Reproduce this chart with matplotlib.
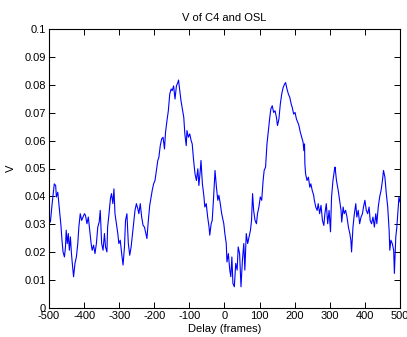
import matplotlib
matplotlib.use("Agg")
import matplotlib.pyplot as plt

title = "V of C4 and OSL"
xlabel = "Delay (frames)"
ylabel = "V"

x_ticks = [-500, -400, -300, -200, -100, 0, 100, 200, 300, 400, 500]
x_tick_labels = ["-500", "-400", "-300", "-200", "-100", "0", "100", "200", "300", "400", "500"]
y_ticks = [0, 0.01, 0.02, 0.03, 0.04, 0.05, 0.06, 0.07, 0.08, 0.09, 0.1]
y_tick_labels = ["0", "0.01", "0.02", "0.03", "0.04", "0.05", "0.06", "0.07", "0.08", "0.09", "0.1"]

delay_a = [-500, -496, -492, -489, -485, -481, -479, -475, -472, -470, -466, -463, -460, -456,
           -453, -451, -448, -445, -442, -439, -436, -434, -430, -426, -422, -418, -415, -411,
           -407, -403, -399, -396, -392, -388, -384, -380, -377, -373, -369, -365, -361, -357,
           -354, -350, -346, -342, -339, -335]
v_a = [0.0326, 0.0308, 0.0362, 0.0398, 0.0445, 0.0439, 0.0398, 0.0415, 0.0374, 0.0350, 0.0296,
       0.0243, 0.0201, 0.0183, 0.0219, 0.0279, 0.0231, 0.0267, 0.0207, 0.0255, 0.0195, 0.0165,
       0.0112, 0.0160, 0.0183, 0.0231, 0.0290, 0.0338, 0.0314, 0.0326, 0.0338, 0.0332, 0.0302,
       0.0326, 0.0279, 0.0231, 0.0207, 0.0225, 0.0195, 0.0231, 0.0290, 0.0308, 0.0350, 0.0231,
       0.0207, 0.0267, 0.0219, 0.0201]

delay_b = [-333, -329, -325, -322, -318, -315, -312, -308, -304, -301, -297, -293, -289, -285,
           -282, -278, -274, -270, -266, -263, -259, -255, -251, -247, -244, -240, -236, -232,
           -228, -225, -221, -217, -213, -209, -206, -202, -198, -194, -190, -187, -183, -179,
           -175, -171]
v_b = [0.0290, 0.0338, 0.0392, 0.0410, 0.0374, 0.0427, 0.0338, 0.0302, 0.0267, 0.0231, 0.0243,
       0.0195, 0.0154, 0.0219, 0.0314, 0.0338, 0.0231, 0.0189, 0.0219, 0.0255, 0.0302, 0.0350,
       0.0374, 0.0356, 0.0338, 0.0374, 0.0326, 0.0296, 0.0290, 0.0273, 0.0249, 0.0314, 0.0368,
       0.0398, 0.0421, 0.0445, 0.0457, 0.0493, 0.0529, 0.0540, 0.0582, 0.0606, 0.0612, 0.0570]

delay_c = [-168, -164, -160, -156, -152, -149, -145, -141, -137, -133, -131, -128, -124, -120,
           -116, -113, -109, -107, -103, -99, -95, -92, -88, -84, -80, -76, -73, -69, -67, -63,
           -59, -56, -52, -48, -44, -42, -38, -35, -31, -27, -23, -19, -16, -12, -8]
v_c = [0.0630, 0.0671, 0.0707, 0.0767, 0.0785, 0.0779, 0.0796, 0.0749, 0.0796, 0.0808, 0.0817,
       0.0785, 0.0743, 0.0713, 0.0683, 0.0624, 0.0582, 0.0636, 0.0612, 0.0624, 0.0600, 0.0588,
       0.0529, 0.0481, 0.0457, 0.0499, 0.0439, 0.0493, 0.0529, 0.0445, 0.0404, 0.0362, 0.0374,
       0.0326, 0.0290, 0.0261, 0.0302, 0.0314, 0.0398, 0.0493, 0.0433, 0.0386, 0.0404, 0.0374,
       0.0338]

delay_d = [-2, 1, 5, 7, 11, 15, 18, 21, 24, 28, 32, 36, 39, 43, 47, 51, 55, 58, 62, 66, 70, 74,
           77, 80, 83, 87, 91, 94, 98, 102, 106, 110, 113, 117, 121, 125, 129, 132, 136, 140,
           144, 148, 151, 155]
v_d = [0.0302, 0.0267, 0.0231, 0.0165, 0.0195, 0.0136, 0.0112, 0.0183, 0.0088, 0.0076, 0.0160,
       0.0136, 0.0219, 0.0195, 0.0076, 0.0171, 0.0231, 0.0136, 0.0267, 0.0231, 0.0255, 0.0279,
       0.0314, 0.0410, 0.0350, 0.0314, 0.0302, 0.0338, 0.0362, 0.0398, 0.0386, 0.0457, 0.0493,
       0.0505, 0.0588, 0.0636, 0.0683, 0.0713, 0.0725, 0.0701, 0.0707, 0.0683, 0.0654, 0.0677]

delay_e = [159, 163, 167, 171, 174, 178, 182, 186, 190, 193, 197, 201, 205, 209, 212, 216, 220,
           224, 226, 228, 229, 231, 235, 239, 243, 246, 250, 254, 256, 260, 264, 267, 271, 275,
           279, 283, 286, 290, 294, 298, 302, 305, 309, 313, 315, 319]
v_e = [0.0731, 0.0767, 0.0790, 0.0802, 0.0808, 0.0785, 0.0767, 0.0755, 0.0731, 0.0719, 0.0695,
       0.0701, 0.0677, 0.0665, 0.0654, 0.0630, 0.0612, 0.0594, 0.0564, 0.0588, 0.0517, 0.0481,
       0.0457, 0.0469, 0.0433, 0.0445, 0.0421, 0.0404, 0.0386, 0.0362, 0.0350, 0.0374, 0.0338,
       0.0368, 0.0314, 0.0296, 0.0338, 0.0374, 0.0302, 0.0350, 0.0273, 0.0398, 0.0457, 0.0493,
       0.0505, 0.0457]

delay_f = [324, 328, 332, 334, 338, 341, 345, 349, 353, 357, 360, 362, 366, 370, 374, 377, 381,
           385, 389, 393, 396, 400, 404, 408, 412, 415, 419, 423, 427, 431, 434, 438, 442, 446,
           450, 453, 457, 461, 465, 469, 471, 474, 478, 482, 484, 488, 491, 495, 497, 500]
v_f = [0.0421, 0.0386, 0.0350, 0.0308, 0.0362, 0.0338, 0.0350, 0.0326, 0.0290, 0.0267, 0.0243,
       0.0201, 0.0290, 0.0338, 0.0374, 0.0326, 0.0350, 0.0302, 0.0326, 0.0338, 0.0362, 0.0386,
       0.0350, 0.0338, 0.0362, 0.0314, 0.0302, 0.0326, 0.0290, 0.0338, 0.0302, 0.0362, 0.0398,
       0.0421, 0.0457, 0.0493, 0.0469, 0.0410, 0.0362, 0.0279, 0.0207, 0.0243, 0.0231, 0.0207,
       0.0124, 0.0255, 0.0290, 0.0362, 0.0398, 0.0380]

delay = delay_a + delay_b + delay_c + delay_d + delay_e + delay_f
v = v_a + v_b + v_c + v_d + v_e + v_f

plt.rcParams['font.family'] = ['Liberation Sans', 'DejaVu Sans']

fig = plt.figure(figsize=(4.07, 3.37), dpi=100, facecolor='white')
ax = fig.add_axes([49 / 407, 1 - 308 / 337, 351 / 407, 279 / 337])
ax.plot(delay, v, color='#0000ff', linewidth=0.8)

ax.set_xlim(-500, 500)
ax.set_ylim(0, 0.1)
ax.set_xticks(x_ticks)
ax.set_xticklabels(x_tick_labels)
ax.set_yticks(y_ticks)
ax.set_yticklabels(y_tick_labels)
ax.tick_params(direction='in', length=4, width=0.7, top=True, right=True,
               labelsize=8, pad=2, colors='black')
for s in ax.spines.values():
    s.set_linewidth(0.8)
    s.set_color('black')

ax.set_title(title, fontsize=8, pad=6)
ax.set_xlabel(xlabel, fontsize=8, labelpad=2)
ax.set_ylabel(ylabel, fontsize=8, labelpad=6)

fig.savefig('out.png', dpi=100, facecolor='white')
